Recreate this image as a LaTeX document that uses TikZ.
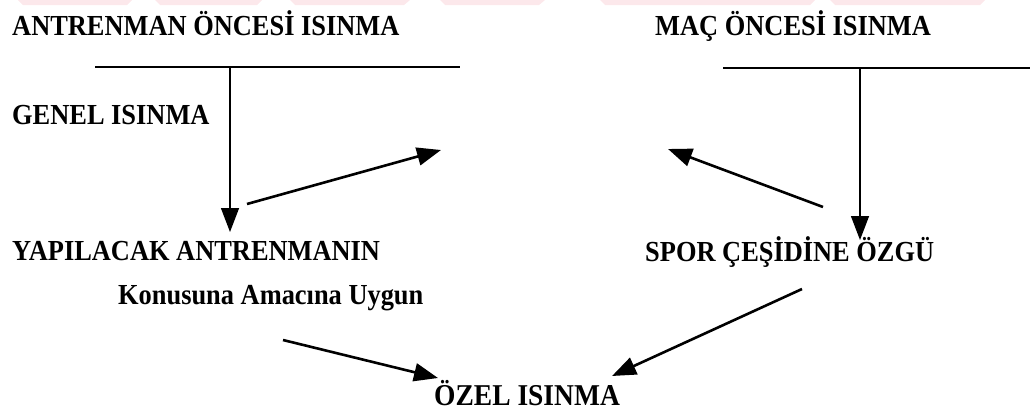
\documentclass[tikz,border=0pt]{standalone}
\usepackage{fontspec}
\setmainfont{Liberation Serif}
\usetikzlibrary{arrows.meta}
\definecolor{wmpink}{RGB}{252,232,235}
\newcommand{\tall}[1]{\scalebox{1}[1.1]{#1}}
\tikzset{
  lbl/.style={anchor=base west, inner sep=0pt, font=\fontsize{26.4}{30}\selectfont\bfseries},
  big/.style={anchor=base west, inner sep=0pt, font=\fontsize{27.5}{32}\selectfont\bfseries},
  rule/.style={line width=1.6pt},
  vline/.style={line width=1.4pt, -{Triangle[length=24pt,width=18pt]}},
  arr/.style={line width=2.6pt, -{Triangle[length=24pt,width=18pt]}},
  wm/.style={fill=wmpink, draw=none}
}
\begin{document}
\begin{tikzpicture}[x=1pt,y=-1pt]
\useasboundingbox (0,0) rectangle (1030,410);
% faint watermark band
\fill[wm] (18,0) -- (132,0) -- (127,5) -- (23,5) -- cycle;
\fill[wm] (155,0) -- (262,0) -- (257,5) -- (160,5) -- cycle;
\fill[wm] (290,0) -- (410,0) -- (404,5) -- (295,5) -- cycle;
\fill[wm] (440,0) -- (545,0) -- (539,5) -- (445,5) -- cycle;
\fill[wm] (600,0) -- (815,0) -- (810,5) -- (605,5) -- cycle;
\fill[wm] (830,0) -- (985,0) -- (980,5) -- (835,5) -- cycle;

% titles
\node[lbl] (t1) at (12,35) {\tall{ANTRENMAN ÖNCESİ ISINMA}};
\node[lbl] (t2) at (655,35) {\tall{MAÇ ÖNCESİ ISINMA}};

% horizontal rules and their junction points
\coordinate (l1a) at (95,67);
\coordinate (l1b) at (460,67);
\coordinate (j1) at (230,67);
\coordinate (l2a) at (723,68);
\coordinate (l2b) at (1030,68);
\coordinate (j2) at (860,68);
\draw[rule] (l1a) -- (l1b);
\draw[rule] (l2a) -- (l2b);

% labels
\node[lbl] (genel) at (12,124) {\tall{GENEL ISINMA}};
\node[lbl] (yap) at (12,260) {\tall{YAPILACAK ANTRENMANIN}};
\node[lbl] (kon) at (118,304) {\tall{Konusuna Amacına Uygun}};
\node[lbl] (spor) at (645,261) {\tall{SPOR ÇEŞİDİNE ÖZGÜ}};
\node[big] (ozel) at (434,405) {\tall{ÖZEL ISINMA}};

% arrow ends
\coordinate (v1e) at (230,232);
\coordinate (v2e) at (860,240);
\coordinate (a1s) at (247,204);
\coordinate (a1e) at (441,150);
\coordinate (a2s) at (823,207);
\coordinate (a2e) at (668,149);
\coordinate (a3s) at (283,340);
\coordinate (a3e) at (438,378);
\coordinate (a4s) at (802,289);
\coordinate (a4e) at (612,376);

% vertical arrows
\draw[vline] (j1) -- (v1e);
\draw[vline] (j2) -- (v2e);

% diagonal arrows
\draw[arr] (a1s) -- (a1e);
\draw[arr] (a2s) -- (a2e);
\draw[arr] (a3s) -- (a3e);
\draw[arr] (a4s) -- (a4e);
\end{tikzpicture}
\end{document}
